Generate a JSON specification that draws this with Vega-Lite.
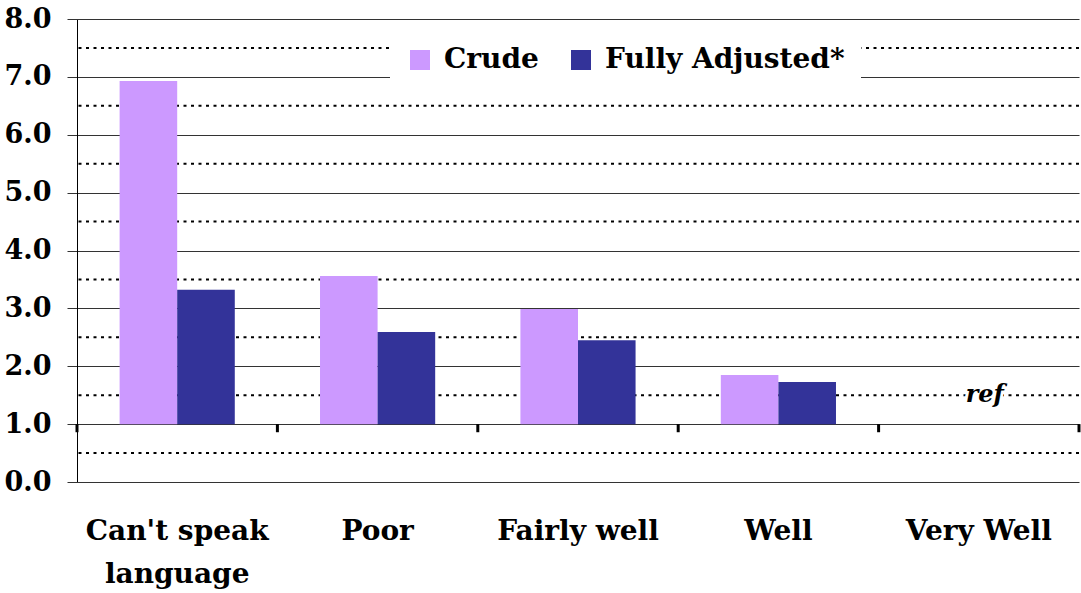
{
  "$schema": "https://vega.github.io/schema/vega-lite/v6.json",
  "width": 1002,
  "height": 463,
  "autosize": {"type": "none"},
  "padding": {"left": 77, "top": 19, "right": 2, "bottom": 111},
  "background": "white",
  "config": {
    "view": {"stroke": null},
    "font": "DejaVu Serif"
  },
  "datasets": {
    "bars": [
      {"category": "Can't speak language", "series": "Crude", "value": 6.93},
      {"category": "Can't speak language", "series": "Fully Adjusted*", "value": 3.32},
      {"category": "Poor", "series": "Crude", "value": 3.56},
      {"category": "Poor", "series": "Fully Adjusted*", "value": 2.59},
      {"category": "Fairly well", "series": "Crude", "value": 2.99},
      {"category": "Fairly well", "series": "Fully Adjusted*", "value": 2.45},
      {"category": "Well", "series": "Crude", "value": 1.85},
      {"category": "Well", "series": "Fully Adjusted*", "value": 1.73}
    ],
    "cats": [
      {"category": "Can't speak language"},
      {"category": "Poor"},
      {"category": "Fairly well"},
      {"category": "Well"},
      {"category": "Very Well"}
    ],
    "halfgrid": [
      {"v": 0.5}, {"v": 1.5}, {"v": 2.5}, {"v": 3.5}, {"v": 4.5}, {"v": 5.5}, {"v": 6.5}, {"v": 7.5}
    ],
    "reflabel": [
      {"category": "Very Well", "label": "ref", "value": 1.5}
    ]
  },
  "layer": [
    {
      "data": {"name": "halfgrid"},
      "mark": {"type": "rule", "color": "black", "strokeWidth": 2, "strokeDash": [3, 4.5]},
      "encoding": {"y": {"field": "v", "type": "quantitative"}}
    },
    {
      "data": {"name": "bars"},
      "mark": {"type": "bar"},
      "encoding": {
        "x": {
          "field": "category",
          "type": "nominal",
          "sort": ["Can't speak language", "Poor", "Fairly well", "Well", "Very Well"],
          "scale": {"domain": ["Can't speak language", "Poor", "Fairly well", "Well", "Very Well"], "paddingInner": 0, "paddingOuter": 0},
          "axis": {
            "title": null,
            "domain": false,
            "ticks": false,
            "grid": false,
            "labelAngle": 0,
            "labelPadding": 35,
            "labelFont": "DejaVu Serif",
            "labelFontWeight": "bold",
            "labelFontSize": 28,
            "labelColor": "black",
            "labelLineHeight": 43,
            "labelLimit": 300,
            "labelExpr": "datum.label == \"Can't speak language\" ? [\"Can't speak\", \"language\"] : datum.label"
          }
        },
        "xOffset": {
          "field": "series",
          "type": "nominal",
          "scale": {"paddingInner": 0, "paddingOuter": 0.74}
        },
        "y": {
          "field": "value",
          "type": "quantitative",
          "scale": {"domain": [0, 8], "nice": false, "zero": true},
          "axis": {
            "title": null,
            "values": [0, 1, 2, 3, 4, 5, 6, 7, 8],
            "format": ".1f",
            "grid": true,
            "gridColor": "#333333",
            "gridWidth": 1,
            "gridOpacity": 1,
            "tickColor": "#333333",
            "tickSize": 10,
            "domain": true,
            "domainColor": "black",
            "domainWidth": 1,
            "labelPadding": 16,
            "labelFont": "DejaVu Serif",
            "labelFontWeight": "bold",
            "labelFontSize": 27,
            "labelColor": "black"
          }
        },
        "y2": {"datum": 1},
        "color": {
          "field": "series",
          "type": "nominal",
          "scale": {"domain": ["Crude", "Fully Adjusted*"], "range": ["#CC99FF", "#333399"]},
          "legend": {
            "title": null,
            "orient": "none",
            "direction": "horizontal",
            "legendX": 313,
            "legendY": 11,
            "fillColor": "white",
            "padding": 16,
            "symbolType": "square",
            "symbolSize": 400,
            "symbolStrokeWidth": 0,
            "labelFont": "DejaVu Serif",
            "labelFontWeight": "bold",
            "labelFontSize": 28,
            "labelColor": "black",
            "labelOffset": 10,
            "columnPadding": 28,
            "labelLimit": 400
          }
        }
      }
    },
    {
      "mark": {"type": "rule", "color": "black", "strokeWidth": 3},
      "encoding": {"y": {"datum": 1, "type": "quantitative"}}
    },
    {
      "data": {"name": "cats"},
      "mark": {"type": "rule", "color": "black", "strokeWidth": 3},
      "encoding": {
        "x": {"field": "category", "type": "nominal", "bandPosition": 0},
        "y": {"datum": 1, "type": "quantitative"},
        "y2": {"datum": 0.86}
      }
    },
    {
      "data": {"values": [{"category": "Very Well"}]},
      "mark": {"type": "rule", "color": "black", "strokeWidth": 3},
      "encoding": {
        "x": {"field": "category", "type": "nominal", "bandPosition": 1},
        "y": {"datum": 1, "type": "quantitative"},
        "y2": {"datum": 0.86}
      }
    },
    {
      "data": {"name": "reflabel"},
      "mark": {"type": "text", "font": "DejaVu Serif", "fontWeight": "bold", "fontStyle": "italic", "fontSize": 24, "color": "white", "stroke": "white", "strokeWidth": 6, "baseline": "middle", "dx": 6},
      "encoding": {
        "x": {"field": "category", "type": "nominal"},
        "y": {"field": "value", "type": "quantitative"},
        "text": {"field": "label"}
      }
    },
    {
      "data": {"name": "reflabel"},
      "mark": {"type": "text", "font": "DejaVu Serif", "fontWeight": "bold", "fontStyle": "italic", "fontSize": 24, "color": "black", "baseline": "middle", "dx": 6},
      "encoding": {
        "x": {"field": "category", "type": "nominal"},
        "y": {"field": "value", "type": "quantitative"},
        "text": {"field": "label"}
      }
    }
  ]
}
